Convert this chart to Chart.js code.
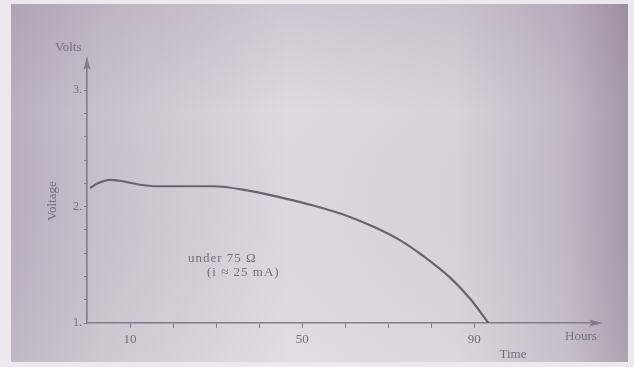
<!DOCTYPE html>
<html>
<head>
<meta charset="utf-8">
<script src="https://cdn.jsdelivr.net/npm/chart.js@4/dist/chart.umd.min.js"></script>
<style>
  html, body { margin: 0; padding: 0; background: #ece8ee; }
  #wrap { position: relative; width: 634px; height: 367px; }
  canvas { display: block; }
</style>
</head>
<body>
<div id="wrap"><canvas id="c" width="634" height="367"></canvas></div>
<script>
// ---- data ----
const hours = [0.7, 2.5, 5.3, 8, 12, 16.3, 22, 29.3, 37.2, 44.9, 52.6, 60.5, 67, 72.8, 78, 84.4, 89, 93.3];
const volts = [2.16, 2.20, 2.23, 2.22, 2.19, 2.175, 2.175, 2.175, 2.14, 2.08, 2.01, 1.92, 1.82, 1.71, 1.58, 1.39, 1.21, 1.00];
const xLabelValues = [10, 50, 90];
const yLabelValues = [1, 2, 3];
const yAxisUnit = "Volts";
const yAxisTitle = "Voltage";
const xAxisUnit = "Hours";
const xAxisTitle = "Time";
const noteLines = ["under 75 Ω", "(i ≈ 25 mA)"];

const INK = '#766b7c';
const AXIS = '#84798a';
const SERIF = "'Liberation Serif', 'DejaVu Serif', serif";

const bgPlugin = {
  id: 'paperBg',
  beforeDraw(chart) {
    const ctx = chart.ctx, W = chart.width, H = chart.height;
    ctx.save();
    ctx.fillStyle = '#ece8ee';
    ctx.fillRect(0, 0, W, H);
    const g = ctx.createLinearGradient(11, 0, 628, 0);
    g.addColorStop(0, '#bbafbf');
    g.addColorStop(0.15, '#cbc1ce');
    g.addColorStop(0.45, '#e0d8e3');
    g.addColorStop(0.72, '#d9d1dc');
    g.addColorStop(0.9, '#c3b7c6');
    g.addColorStop(1, '#a598a9');
    ctx.fillStyle = g;
    ctx.fillRect(11, 4, 617, 358);
    const v = ctx.createLinearGradient(0, 4, 0, 362);
    v.addColorStop(0, 'rgba(110,90,115,0.14)');
    v.addColorStop(0.3, 'rgba(110,90,115,0)');
    v.addColorStop(1, 'rgba(255,255,255,0.10)');
    ctx.fillStyle = v;
    ctx.fillRect(11, 4, 617, 358);
    ctx.restore();
  }
};

const decoPlugin = {
  id: 'deco',
  afterDraw(chart) {
    const ctx = chart.ctx, a = chart.chartArea;
    ctx.save();
    // arrowheads
    ctx.fillStyle = AXIS;
    ctx.beginPath();
    ctx.moveTo(a.right + 4, a.bottom);
    ctx.lineTo(a.right - 10, a.bottom - 3.5);
    ctx.lineTo(a.right - 7, a.bottom);
    ctx.lineTo(a.right - 10, a.bottom + 3.5);
    ctx.closePath();
    ctx.fill();
    ctx.beginPath();
    ctx.moveTo(a.left, a.top - 4);
    ctx.lineTo(a.left - 3.5, a.top + 10);
    ctx.lineTo(a.left, a.top + 7);
    ctx.lineTo(a.left + 3.5, a.top + 10);
    ctx.closePath();
    ctx.fill();
    // texts
    ctx.fillStyle = INK;
    ctx.font = '13px ' + SERIF;
    ctx.textBaseline = 'middle';
    ctx.textAlign = 'left';
    ctx.fillText(yAxisUnit, 55, 48);
    ctx.textAlign = 'center';
    ctx.fillText(xAxisUnit, 581, 337);
    ctx.fillText(xAxisTitle, 513, 355);
    ctx.save();
    ctx.translate(53, 201);
    ctx.rotate(-Math.PI / 2);
    ctx.fillText(yAxisTitle, 0, 0);
    ctx.restore();
    ctx.textAlign = 'left';
    ctx.font = '13px ' + SERIF;
    if ('letterSpacing' in ctx) ctx.letterSpacing = '1px';
    ctx.fillText(noteLines[0], 188, 259);
    ctx.fillText(noteLines[1], 207, 273);
    ctx.restore();
  }
};

new Chart(document.getElementById('c'), {
  type: 'line',
  data: {
    datasets: [{
      data: hours.map((h, i) => ({ x: h, y: volts[i] })),
      borderColor: '#6c6172',
      borderWidth: 2.2,
      pointRadius: 0,
      cubicInterpolationMode: 'monotone',
      fill: false
    }]
  },
  options: {
    responsive: false,
    animation: false,
    layout: { padding: { top: 60, right: 35, left: 0, bottom: 0 } },
    plugins: { legend: { display: false }, tooltip: { enabled: false } },
    scales: {
      x: {
        type: 'linear', min: 0, max: 119,
        border: { color: AXIS, width: 1.6 },
        grid: { drawOnChartArea: false, drawTicks: true, tickLength: 5, color: AXIS, lineWidth: 1 },
        ticks: {
          stepSize: 10, autoSkip: false, maxRotation: 0, padding: 4,
          color: INK, font: { family: SERIF, size: 13 },
          callback: v => xLabelValues.includes(Math.round(v)) ? String(Math.round(v)) : ''
        },
        afterBuildTicks: s => { s.ticks = s.ticks.filter(t => t.value >= 10 && t.value <= 90); },
        afterFit: s => { s.height = 44; }
      },
      y: {
        type: 'linear', min: 1, max: 3.26,
        border: { color: AXIS, width: 1.6 },
        grid: { drawOnChartArea: false, drawTicks: true, tickLength: 3, color: AXIS, lineWidth: 1 },
        ticks: {
          stepSize: 0.2, includeBounds: false, autoSkip: false, padding: 2,
          color: INK, font: { family: SERIF, size: 12 },
          callback: v => {
            const r = Math.round(v);
            return (Math.abs(v - r) < 1e-6 && yLabelValues.includes(r)) ? String(r) + '.' : '';
          }
        },
        afterBuildTicks: s => { s.ticks = s.ticks.filter(t => t.value <= 3.0001); },
        afterFit: s => { s.width = 87; }
      }
    }
  },
  plugins: [bgPlugin, decoPlugin]
});
</script>
</body>
</html>
